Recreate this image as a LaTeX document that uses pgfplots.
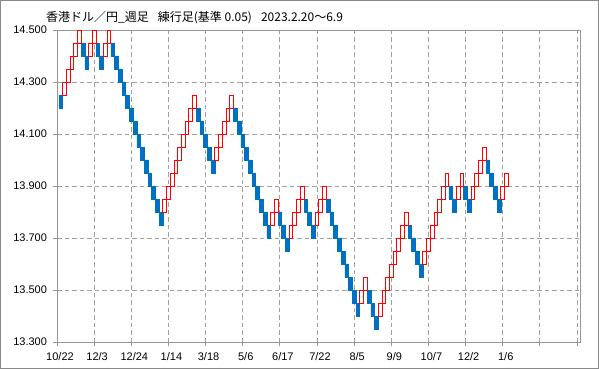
\documentclass[border=0pt]{standalone}
\usepackage{fontspec}
\setmainfont{Liberation Sans}
\newfontfamily\jp{Noto Sans CJK JP}
\usepackage{pgfplots}
\usepackage{pgfplotstable}
\pgfplotsset{compat=1.18}
\definecolor{brickblue}{RGB}{0,112,192}
\definecolor{brickred}{RGB}{255,0,0}
\definecolor{framegray}{RGB}{150,150,150}
\definecolor{gridgray}{RGB}{160,160,160}
\definecolor{bordergray}{RGB}{137,137,137}

% down bricks (blue): x = brick number, lo/hi = brick bottom/top
\pgfplotstableread{
x lo hi
1 14.20 14.25
7 14.40 14.45
8 14.35 14.40
11 14.40 14.45
12 14.35 14.40
15 14.40 14.45
16 14.35 14.40
17 14.30 14.35
18 14.25 14.30
19 14.20 14.25
20 14.15 14.20
21 14.10 14.15
22 14.05 14.10
23 14.00 14.05
24 13.95 14.00
25 13.90 13.95
26 13.85 13.90
27 13.80 13.85
28 13.75 13.80
38 14.15 14.20
39 14.10 14.15
40 14.05 14.10
41 14.00 14.05
42 13.95 14.00
48 14.15 14.20
49 14.10 14.15
50 14.05 14.10
51 14.00 14.05
52 13.95 14.00
53 13.90 13.95
54 13.85 13.90
55 13.80 13.85
56 13.75 13.80
57 13.70 13.75
60 13.75 13.80
61 13.70 13.75
62 13.65 13.70
67 13.80 13.85
68 13.75 13.80
69 13.70 13.75
73 13.80 13.85
74 13.75 13.80
75 13.70 13.75
76 13.65 13.70
77 13.60 13.65
78 13.55 13.60
79 13.50 13.55
80 13.45 13.50
81 13.40 13.45
84 13.45 13.50
85 13.40 13.45
86 13.35 13.40
95 13.70 13.75
96 13.65 13.70
97 13.60 13.65
98 13.55 13.60
106 13.85 13.90
107 13.80 13.85
110 13.85 13.90
111 13.80 13.85
116 13.95 14.00
117 13.90 13.95
118 13.85 13.90
119 13.80 13.85
}\downbricks

% up bricks (red outline)
\pgfplotstableread{
x lo hi
2 14.25 14.30
3 14.30 14.35
4 14.35 14.40
5 14.40 14.45
6 14.45 14.50
9 14.40 14.45
10 14.45 14.50
13 14.40 14.45
14 14.45 14.50
29 13.80 13.85
30 13.85 13.90
31 13.90 13.95
32 13.95 14.00
33 14.00 14.05
34 14.05 14.10
35 14.10 14.15
36 14.15 14.20
37 14.20 14.25
43 14.00 14.05
44 14.05 14.10
45 14.10 14.15
46 14.15 14.20
47 14.20 14.25
58 13.75 13.80
59 13.80 13.85
63 13.70 13.75
64 13.75 13.80
65 13.80 13.85
66 13.85 13.90
70 13.75 13.80
71 13.80 13.85
72 13.85 13.90
82 13.45 13.50
83 13.50 13.55
87 13.40 13.45
88 13.45 13.50
89 13.50 13.55
90 13.55 13.60
91 13.60 13.65
92 13.65 13.70
93 13.70 13.75
94 13.75 13.80
99 13.60 13.65
100 13.65 13.70
101 13.70 13.75
102 13.75 13.80
103 13.80 13.85
104 13.85 13.90
105 13.90 13.95
108 13.85 13.90
109 13.90 13.95
112 13.85 13.90
113 13.90 13.95
114 13.95 14.00
115 14.00 14.05
120 13.85 13.90
121 13.90 13.95
}\upbricks

\pgfplotsset{
  renko/.style={
    scale only axis,
    width=523pt, height=312pt,
    at={(57pt,27pt)}, anchor=south west,
    xmin=0, xmax=140.8,
    ymin=13.3, ymax=14.5,
    ybar stacked, bar width=1,
  }
}

\begin{document}
\begin{tikzpicture}
\useasboundingbox (0,0) rectangle (599pt,369pt);
\draw[bordergray, line width=0.8pt] (0.5pt,0.5pt) rectangle (598.5pt,368.5pt);

\begin{axis}[renko,
  axis line style={framegray, line width=0.8pt},
  xtick={0,10,...,140},
  xticklabels={10/22,12/3,12/24,1/14,3/18,5/6,6/17,7/22,8/5,9/9,10/7,12/2,1/6,{},{}},
  ytick={13.3,13.5,13.7,13.9,14.1,14.3,14.5},
  xtick pos=bottom, ytick pos=left,
  tick align=outside, major tick length=4pt,
  tick style={framegray, line width=0.8pt},
  grid=major,
  major grid style={gridgray, line width=0.8pt, dash pattern=on 4.5pt off 3pt},
  yticklabel style={font=\fontsize{11pt}{13pt}\selectfont, xshift=-2.5pt,
    /pgf/number format/.cd, fixed, fixed zerofill, precision=3, assume math mode=true},
  xticklabel style={font=\fontsize{11pt}{13pt}\selectfont, xshift=3pt, yshift=-3pt},
]
\addplot[draw=none, fill=none] table[x=x, y=lo] {\downbricks};
\addplot[draw=brickblue, line width=0.5pt, fill=brickblue] table[x=x, y expr=\thisrow{hi}-\thisrow{lo}] {\downbricks};
\end{axis}

\begin{axis}[renko, hide axis, clip=false]
\addplot[draw=none, fill=none] table[x=x, y=lo] {\upbricks};
\addplot[draw=brickred, fill=white, line width=0.9pt] table[x=x, y expr=\thisrow{hi}-\thisrow{lo}] {\upbricks};
\end{axis}

\node[anchor=base west, inner sep=0pt] at (46pt,347.5pt)
  {\jp\fontsize{12pt}{14pt}\selectfont 香港ドル／円\_週足\hspace{9pt}練行足(基準 0.05)\hspace{9pt}2023.2.20～6.9};
\end{tikzpicture}
\end{document}
